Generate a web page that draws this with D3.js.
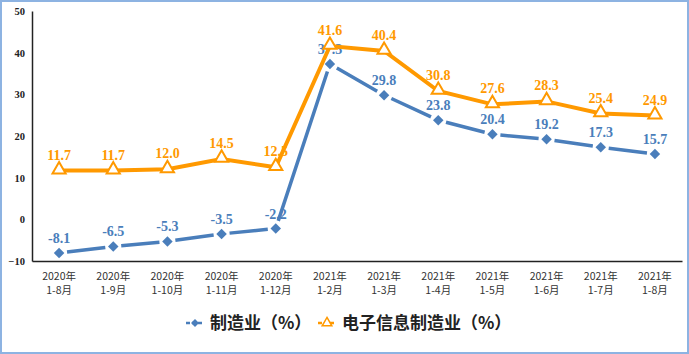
<!DOCTYPE html>
<html>
<head>
<meta charset="utf-8">
<script src="https://cdn.jsdelivr.net/npm/d3@7"></script>
<style>
  body { margin: 0; background: #fff; }
  svg { display: block; }
</style>
</head>
<body>
<svg id="chart" width="689" height="354"></svg>
<script>
// Data
const categories = [
  ['2020年', '1-8月'], ['2020年', '1-9月'], ['2020年', '1-10月'], ['2020年', '1-11月'],
  ['2020年', '1-12月'], ['2021年', '1-2月'], ['2021年', '1-3月'], ['2021年', '1-4月'],
  ['2021年', '1-5月'], ['2021年', '1-6月'], ['2021年', '1-7月'], ['2021年', '1-8月']
];
const manufacturing = [-8.1, -6.5, -5.3, -3.5, -2.2, 37.3, 29.8, 23.8, 20.4, 19.2, 17.3, 15.7];
const electronics = [11.7, 11.7, 12.0, 14.5, 12.5, 41.6, 40.4, 30.8, 27.6, 28.3, 25.4, 24.9];
const yTicks = [-10, 0, 10, 20, 30, 40, 50];
const seriesNames = ['制造业（%）', '电子信息制造业（%）'];

const blue = '#4A7EBB';
const orange = '#FF9900';

const svg = d3.select('#chart');
const W = 689, H = 354;

// Outer border
svg.append('rect')
  .attr('x', 1).attr('y', 1)
  .attr('width', W - 2).attr('height', H - 2)
  .attr('fill', '#fff')
  .attr('stroke', '#8DB3E2')
  .attr('stroke-width', 2);

const plot = { left: 32, right: 682, top: 11, bottom: 261 };

const x = d3.scaleBand()
  .domain(d3.range(categories.length))
  .range([plot.left, plot.right]);

const y = d3.scaleLinear()
  .domain([-10, 50])
  .range([plot.bottom, plot.top]);

const cx = i => x(i) + x.bandwidth() / 2;

// Y axis
const yAxis = d3.axisLeft(y).tickValues(yTicks).tickSize(0).tickPadding(7);
const gy = svg.append('g')
  .attr('transform', 'translate(' + plot.left + ',0)')
  .call(yAxis);
gy.select('.domain').attr('stroke', '#222').attr('stroke-width', 1.5);
gy.selectAll('text')
  .attr('font-family', '"Liberation Serif", serif')
  .attr('font-weight', 'bold')
  .attr('font-size', 10.5)
  .attr('fill', '#222');

// X axis
const xAxis = d3.axisBottom(x).tickSize(0).tickFormat('');
const gx = svg.append('g')
  .attr('transform', 'translate(0,' + plot.bottom + ')')
  .call(xAxis);
gx.select('.domain').attr('stroke', '#222').attr('stroke-width', 1.5);
gx.selectAll('.tick').each(function (d) {
  const t = d3.select(this).append('text')
    .attr('text-anchor', 'middle')
    .attr('font-family', '"Noto Sans CJK SC", sans-serif')
    .attr('font-size', 10.5)
    .attr('fill', '#333');
  t.append('tspan').attr('x', 0).attr('y', 19).text(categories[d][0]);
  t.append('tspan').attr('x', 0).attr('y', 33).text(categories[d][1]);
});

// Data labels (drawn under the lines)
const labelFont = '"Liberation Serif", serif';
svg.append('g').selectAll('text')
  .data(manufacturing)
  .join('text')
  .attr('x', (d, i) => cx(i))
  .attr('y', d => y(d) - 10)
  .attr('text-anchor', 'middle')
  .attr('font-family', labelFont)
  .attr('font-weight', 'bold')
  .attr('font-size', 14)
  .attr('fill', blue)
  .text(d => d.toFixed(1));

svg.append('g').selectAll('text')
  .data(electronics)
  .join('text')
  .attr('x', (d, i) => cx(i))
  .attr('y', d => y(d) - 11)
  .attr('text-anchor', 'middle')
  .attr('font-family', labelFont)
  .attr('font-weight', 'bold')
  .attr('font-size', 14)
  .attr('fill', orange)
  .text(d => d.toFixed(1));

// Manufacturing line: long dashes, each segment broken just before the markers
const gap = 8;
const segs = d3.pairs(manufacturing.map((v, i) => [cx(i), y(v)]));
svg.append('g').selectAll('line')
  .data(segs)
  .join('line')
  .attr('x1', d => d[0][0]).attr('y1', d => d[0][1])
  .attr('x2', d => d[1][0]).attr('y2', d => d[1][1])
  .attr('stroke', blue)
  .attr('stroke-width', 3.5)
  .attr('stroke-dasharray', d => {
    const len = Math.hypot(d[1][0] - d[0][0], d[1][1] - d[0][1]);
    return '0,' + gap + ',' + (len - 2 * gap) + ',' + gap;
  });

const diamond = d3.symbol().type(d3.symbolDiamond2).size(70);
svg.append('g').selectAll('path')
  .data(manufacturing)
  .join('path')
  .attr('transform', (d, i) => 'translate(' + cx(i) + ',' + y(d) + ')')
  .attr('d', diamond)
  .attr('fill', blue);

// Electronics line (solid, hollow triangles)
const line = d3.line()
  .x((d, i) => cx(i))
  .y(d => y(d));

svg.append('path')
  .datum(electronics)
  .attr('fill', 'none')
  .attr('stroke', orange)
  .attr('stroke-width', 4)
  .attr('d', line);

const tri = d3.symbol().type(d3.symbolTriangle).size(75);
svg.append('g').selectAll('path')
  .data(electronics)
  .join('path')
  .attr('transform', (d, i) => 'translate(' + cx(i) + ',' + (y(d) - 1) + ')')
  .attr('d', tri)
  .attr('fill', '#fff')
  .attr('stroke', orange)
  .attr('stroke-width', 2);

// Legend
const legend = svg.append('g').attr('transform', 'translate(0,323)');
const legendItems = [
  { name: seriesNames[0], color: blue, x0: 186, sym: d3.symbol().type(d3.symbolDiamond2).size(40), fill: blue, stroke: 'none' },
  { name: seriesNames[1], color: orange, x0: 318, sym: d3.symbol().type(d3.symbolTriangle).size(40), fill: '#fff', stroke: orange }
];
legendItems.forEach(it => {
  const g = legend.append('g');
  g.append('line')
    .attr('x1', it.x0).attr('x2', it.x0 + 18)
    .attr('y1', 0).attr('y2', 0)
    .attr('stroke', it.color).attr('stroke-width', 2.5)
    .attr('stroke-dasharray', '4,2');
  g.append('path')
    .attr('transform', 'translate(' + (it.x0 + 9) + ',0)')
    .attr('d', it.sym())
    .attr('fill', it.fill)
    .attr('stroke', it.stroke)
    .attr('stroke-width', 1.5);
  g.append('text')
    .attr('x', it.x0 + 24)
    .attr('y', 6)
    .attr('font-family', '"Noto Sans CJK SC", sans-serif')
    .attr('font-weight', 'bold')
    .attr('font-size', 17)
    .attr('fill', '#222')
    .text(it.name);
});
</script>
</body>
</html>
